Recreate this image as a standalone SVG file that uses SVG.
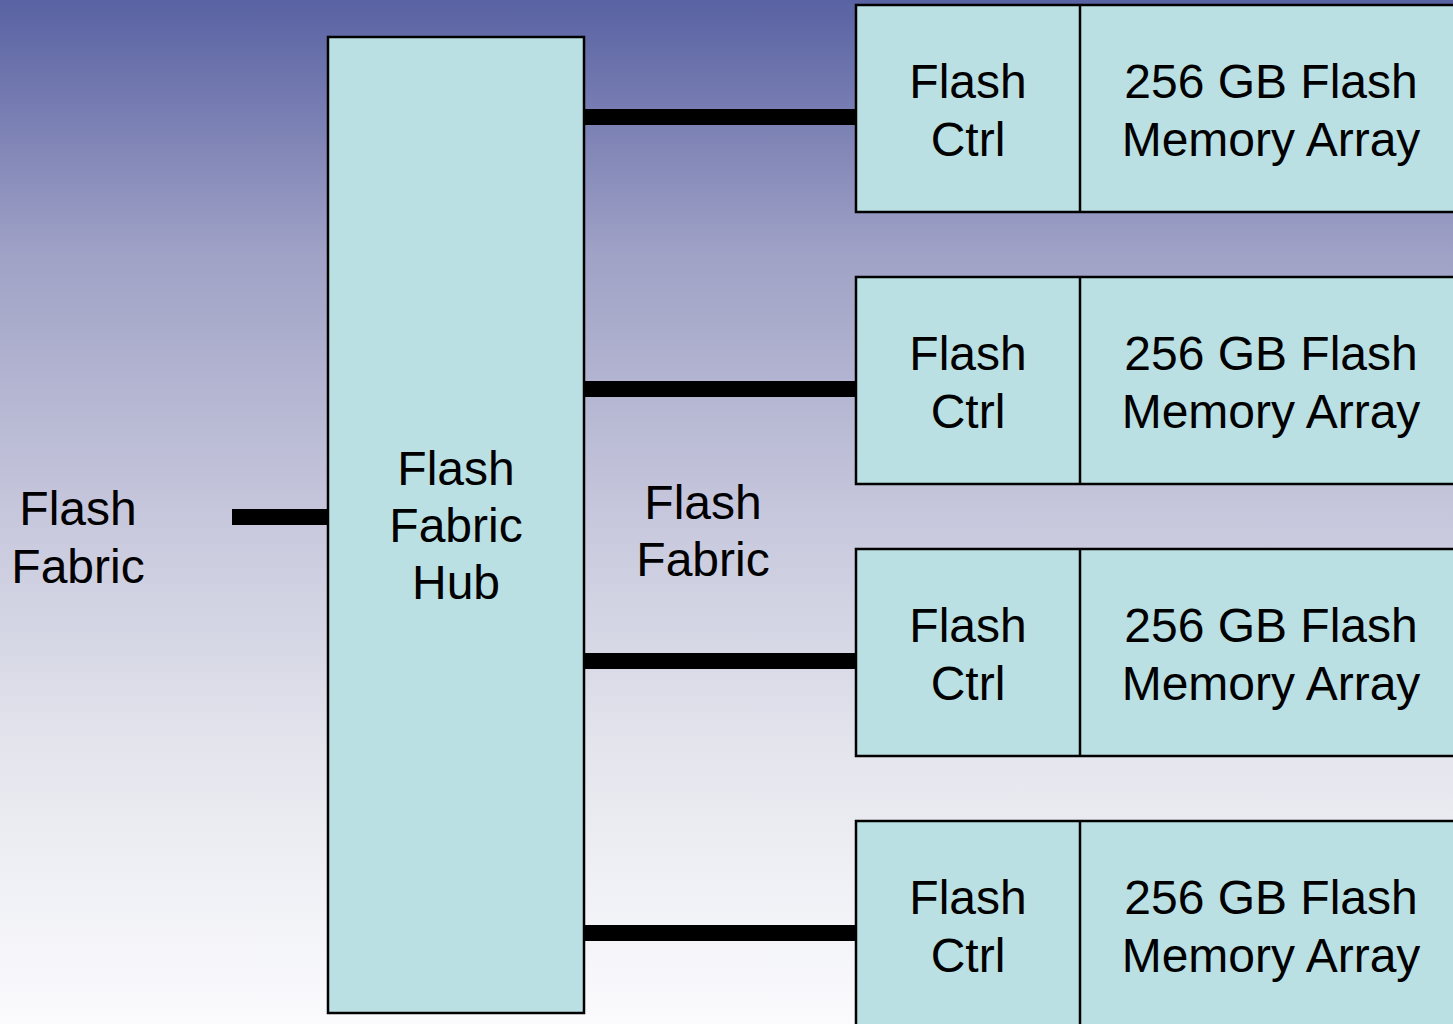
<svg xmlns="http://www.w3.org/2000/svg" width="1453" height="1024" viewBox="0 0 1453 1024">
<defs>
<linearGradient id="bg" x1="0" y1="0" x2="0" y2="1">
<stop offset="0" stop-color="#5962a3"/>
<stop offset="0.25" stop-color="#a0a2c6"/>
<stop offset="0.5" stop-color="#c6c7dc"/>
<stop offset="0.75" stop-color="#e6e7ee"/>
<stop offset="1" stop-color="#fbfbfe"/>
</linearGradient>
<style>
.box{fill:#bae0e3;stroke:#000;stroke-width:2.5}
.div{stroke:#000;stroke-width:2.5}
.t{font-family:"Liberation Sans",Arial,sans-serif;font-size:48px;fill:#000;text-anchor:middle}
.bus{stroke:#000;stroke-width:16;fill:none}
</style>
</defs>
<rect x="0" y="0" width="1453" height="1024" fill="url(#bg)"/>
<g id="connectors">
<line class="bus" x1="232" y1="517" x2="328" y2="517"/>
<line class="bus" x1="584" y1="117" x2="856" y2="117"/>
<line class="bus" x1="584" y1="389" x2="856" y2="389"/>
<line class="bus" x1="584" y1="661" x2="856" y2="661"/>
<line class="bus" x1="584" y1="933" x2="856" y2="933"/>
</g>
<g id="label-flash-fabric-left">
<text class="t" x="78" y="525">Flash</text>
<text class="t" x="78" y="583">Fabric</text>
</g>
<g id="hub">
<rect class="box" x="328" y="37" width="256" height="976"/>
<text class="t" x="456" y="485">Flash</text>
<text class="t" x="456" y="542">Fabric</text>
<text class="t" x="456" y="599">Hub</text>
</g>
<g id="label-flash-fabric-mid">
<text class="t" x="703" y="519">Flash</text>
<text class="t" x="703" y="576">Fabric</text>
</g>
<g id="module1">
<rect class="box" x="856" y="5" width="610" height="207"/>
<line class="div" x1="1080" y1="5" x2="1080" y2="212"/>
<text class="t" x="968" y="98">Flash</text>
<text class="t" x="968" y="156">Ctrl</text>
<text class="t" x="1271" y="98">256 GB Flash</text>
<text class="t" x="1271" y="156">Memory Array</text>
</g>
<g id="module2">
<rect class="box" x="856" y="277" width="610" height="207"/>
<line class="div" x1="1080" y1="277" x2="1080" y2="484"/>
<text class="t" x="968" y="370">Flash</text>
<text class="t" x="968" y="428">Ctrl</text>
<text class="t" x="1271" y="370">256 GB Flash</text>
<text class="t" x="1271" y="428">Memory Array</text>
</g>
<g id="module3">
<rect class="box" x="856" y="549" width="610" height="207"/>
<line class="div" x1="1080" y1="549" x2="1080" y2="756"/>
<text class="t" x="968" y="642">Flash</text>
<text class="t" x="968" y="700">Ctrl</text>
<text class="t" x="1271" y="642">256 GB Flash</text>
<text class="t" x="1271" y="700">Memory Array</text>
</g>
<g id="module4">
<rect class="box" x="856" y="821" width="610" height="220"/>
<line class="div" x1="1080" y1="821" x2="1080" y2="1030"/>
<text class="t" x="968" y="914">Flash</text>
<text class="t" x="968" y="972">Ctrl</text>
<text class="t" x="1271" y="914">256 GB Flash</text>
<text class="t" x="1271" y="972">Memory Array</text>
</g>
</svg>
